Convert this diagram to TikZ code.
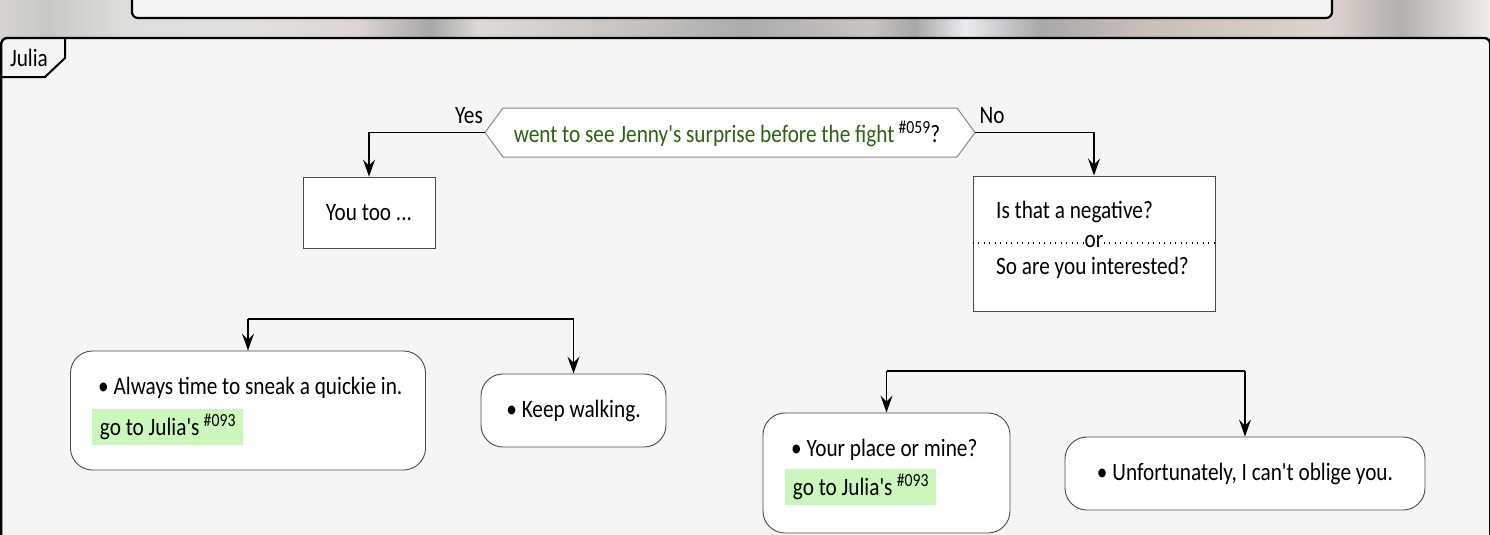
\documentclass[tikz,border=0pt]{standalone}
\usepackage{fontspec}
\setmainfont{Carlito}[Ligatures=TeXOff, FakeStretch=0.85]
\usetikzlibrary{arrows.meta,calc}

\definecolor{panelbg}{HTML}{F5F5F5}
\definecolor{qgreen}{HTML}{2B6410}
\definecolor{hlgreen}{HTML}{CCF7BC}
\definecolor{boxline}{HTML}{4A4A4A}
\definecolor{hexline}{HTML}{8A8A8A}

\newcommand{\refno}[1]{\raisebox{9pt}{\fontsize{18.5}{18}\selectfont\##1}}

\begin{document}
\begin{tikzpicture}[x=1pt,y=-1pt,
  every node/.style={font=\fontsize{25}{28}\selectfont, inner sep=0pt},
  panel/.style={draw=black, line width=2.4pt, fill=panelbg, rounded corners=6pt},
  sqbox/.style={draw=boxline, line width=0.9pt, fill=white, rectangle},
  rbox/.style={draw=boxline, line width=0.9pt, fill=white, rectangle, rounded corners=22pt},
  hl/.style={fill=hlgreen, anchor=west, minimum height=36pt, minimum width=151pt, inner xsep=2pt},
  conn/.style={line width=1.5pt, -{Stealth[length=17pt,width=12pt,inset=6pt]}},
  bar/.style={line width=2.6pt},
  lbl/.style={font=\fontsize{25}{28}\selectfont}
]
\useasboundingbox (0,0) rectangle (1490,535);

% blurred backdrop behind the frames
\begin{scope}
  \shade[left color={rgb,255:red,214;green,212;blue,210}, right color={rgb,255:red,200;green,201;blue,199}] (0,0) rectangle (48,40);
  \shade[left color={rgb,255:red,200;green,201;blue,199}, right color={rgb,255:red,222;green,223;blue,221}] (48,0) rectangle (125,40);
  \shade[left color={rgb,255:red,222;green,223;blue,221}, right color={rgb,255:red,226;green,224;blue,222}] (125,0) rectangle (247,40);
  \shade[left color={rgb,255:red,226;green,224;blue,222}, right color={rgb,255:red,222;green,214;blue,211}] (247,0) rectangle (357,40);
  \shade[left color={rgb,255:red,222;green,214;blue,211}, right color={rgb,255:red,168;green,168;blue,168}] (357,0) rectangle (430,40);
  \shade[left color={rgb,255:red,168;green,168;blue,168}, right color={rgb,255:red,222;green,218;blue,213}] (430,0) rectangle (480,40);
  \shade[left color={rgb,255:red,222;green,218;blue,213}, right color={rgb,255:red,205;green,200;blue,196}] (480,0) rectangle (600,40);
  \shade[left color={rgb,255:red,205;green,200;blue,196}, right color={rgb,255:red,172;green,172;blue,172}] (600,0) rectangle (745,40);
  \shade[left color={rgb,255:red,172;green,172;blue,172}, right color={rgb,255:red,200;green,196;blue,192}] (745,0) rectangle (870,40);
  \shade[left color={rgb,255:red,200;green,196;blue,192}, right color={rgb,255:red,168;green,168;blue,168}] (870,0) rectangle (915,40);
  \shade[left color={rgb,255:red,168;green,168;blue,168}, right color={rgb,255:red,234;green,236;blue,237}] (915,0) rectangle (965,40);
  \shade[left color={rgb,255:red,234;green,236;blue,237}, right color={rgb,255:red,169;green,169;blue,169}] (965,0) rectangle (1040,40);
  \shade[left color={rgb,255:red,169;green,169;blue,169}, right color={rgb,255:red,200;green,189;blue,185}] (1040,0) rectangle (1140,40);
  \shade[left color={rgb,255:red,200;green,189;blue,185}, right color={rgb,255:red,221;green,211;blue,207}] (1140,0) rectangle (1330,40);
  \shade[left color={rgb,255:red,221;green,211;blue,207}, right color={rgb,255:red,178;green,175;blue,173}] (1330,0) rectangle (1400,40);
  \shade[left color={rgb,255:red,178;green,175;blue,173}, right color={rgb,255:red,240;green,238;blue,237}] (1400,0) rectangle (1490,40);
\end{scope}

% upper frame, cut off at the top edge
\draw[panel, line width=2.2pt] (132,-12) rectangle (1332,18);

% main frame
\draw[panel] (1.2,38) rectangle (1490.2,570);

% frame tab
\draw[line width=2pt] (1.2,77) -- (45,77) -- (65,58) -- (65,38);
\node (tab) at (29,58) {Julia};

% decision
\coordinate (dl) at (485,132.5);
\coordinate (dr) at (975,132.5);
\filldraw[fill=white, draw=hexline, line width=1pt]
  (dl) -- (503,108) -- (957,108) -- (dr) -- (957,157) -- (503,157) -- cycle;
\node (q) at (727,134) {{\color{qgreen}went to see Jenny's surprise before the fight}\,\refno{059}?};
\node[lbl] (yes) at (469,116) {Yes};
\node[lbl] (no) at (992,116) {No};

% first answers
\node[sqbox, minimum width=132pt, minimum height=71pt] (y1) at (369,212.5) {You too ...};
\node[sqbox, minimum width=242pt, minimum height=135pt] (n1) at (1094,243.5) {};
\node[anchor=west] (n1a) at (996,212) {Is that a negative?};
\node (n1or) at (1094,242) {or};
\node[anchor=west] (n1b) at (996,268) {So are you interested?};
\draw[line width=1.3pt, dash pattern=on 1.3pt off 4.2pt] (n1.west |- 0,243) -- (n1or.west |- 0,243);
\draw[line width=1.3pt, dash pattern=on 1.3pt off 4.2pt] (n1or.east |- 0,243) -- (n1.east |- 0,243);

\draw[conn] (dl) -| (y1.north);
\draw[conn] (dr) -| (n1.north);

% left branch
\coordinate (lb1) at (248,319);
\coordinate (lb2) at (573.5,319);
\draw[bar] (lb1) -- (lb2);
\node[rbox, minimum width=355pt, minimum height=119pt] (a1) at (248,410.5) {};
\node[anchor=west] (a1t) at (98,388) {\textbullet\ Always time to sneak a quickie in.};
\node[hl] (a1g) at (92,427) {go to Julia's\,\refno{093}};
\node[rbox, minimum width=185pt, minimum height=73pt] (k1) at (573.5,410.5) {\textbullet\ Keep walking.};
\draw[conn] (lb1) -- (a1.north);
\draw[conn] (lb2) -- (k1.north);

% right branch
\coordinate (rb1) at (886.5,371);
\coordinate (rb2) at (1245,371);
\draw[bar] (rb1) -- (rb2);
\node[rbox, minimum width=247pt, minimum height=120pt] (c1) at (886.5,473) {};
\node[anchor=west] (c1t) at (791,450) {\textbullet\ Your place or mine?};
\node[hl] (c1g) at (785,486.5) {go to Julia's\,\refno{093}};
\node[rbox, minimum width=360pt, minimum height=73pt] (u1) at (1245,473.5) {\textbullet\ Unfortunately, I can't oblige you.};
\draw[conn] (rb1) -- (c1.north);
\draw[conn] (rb2) -- (u1.north);

\end{tikzpicture}
\end{document}
